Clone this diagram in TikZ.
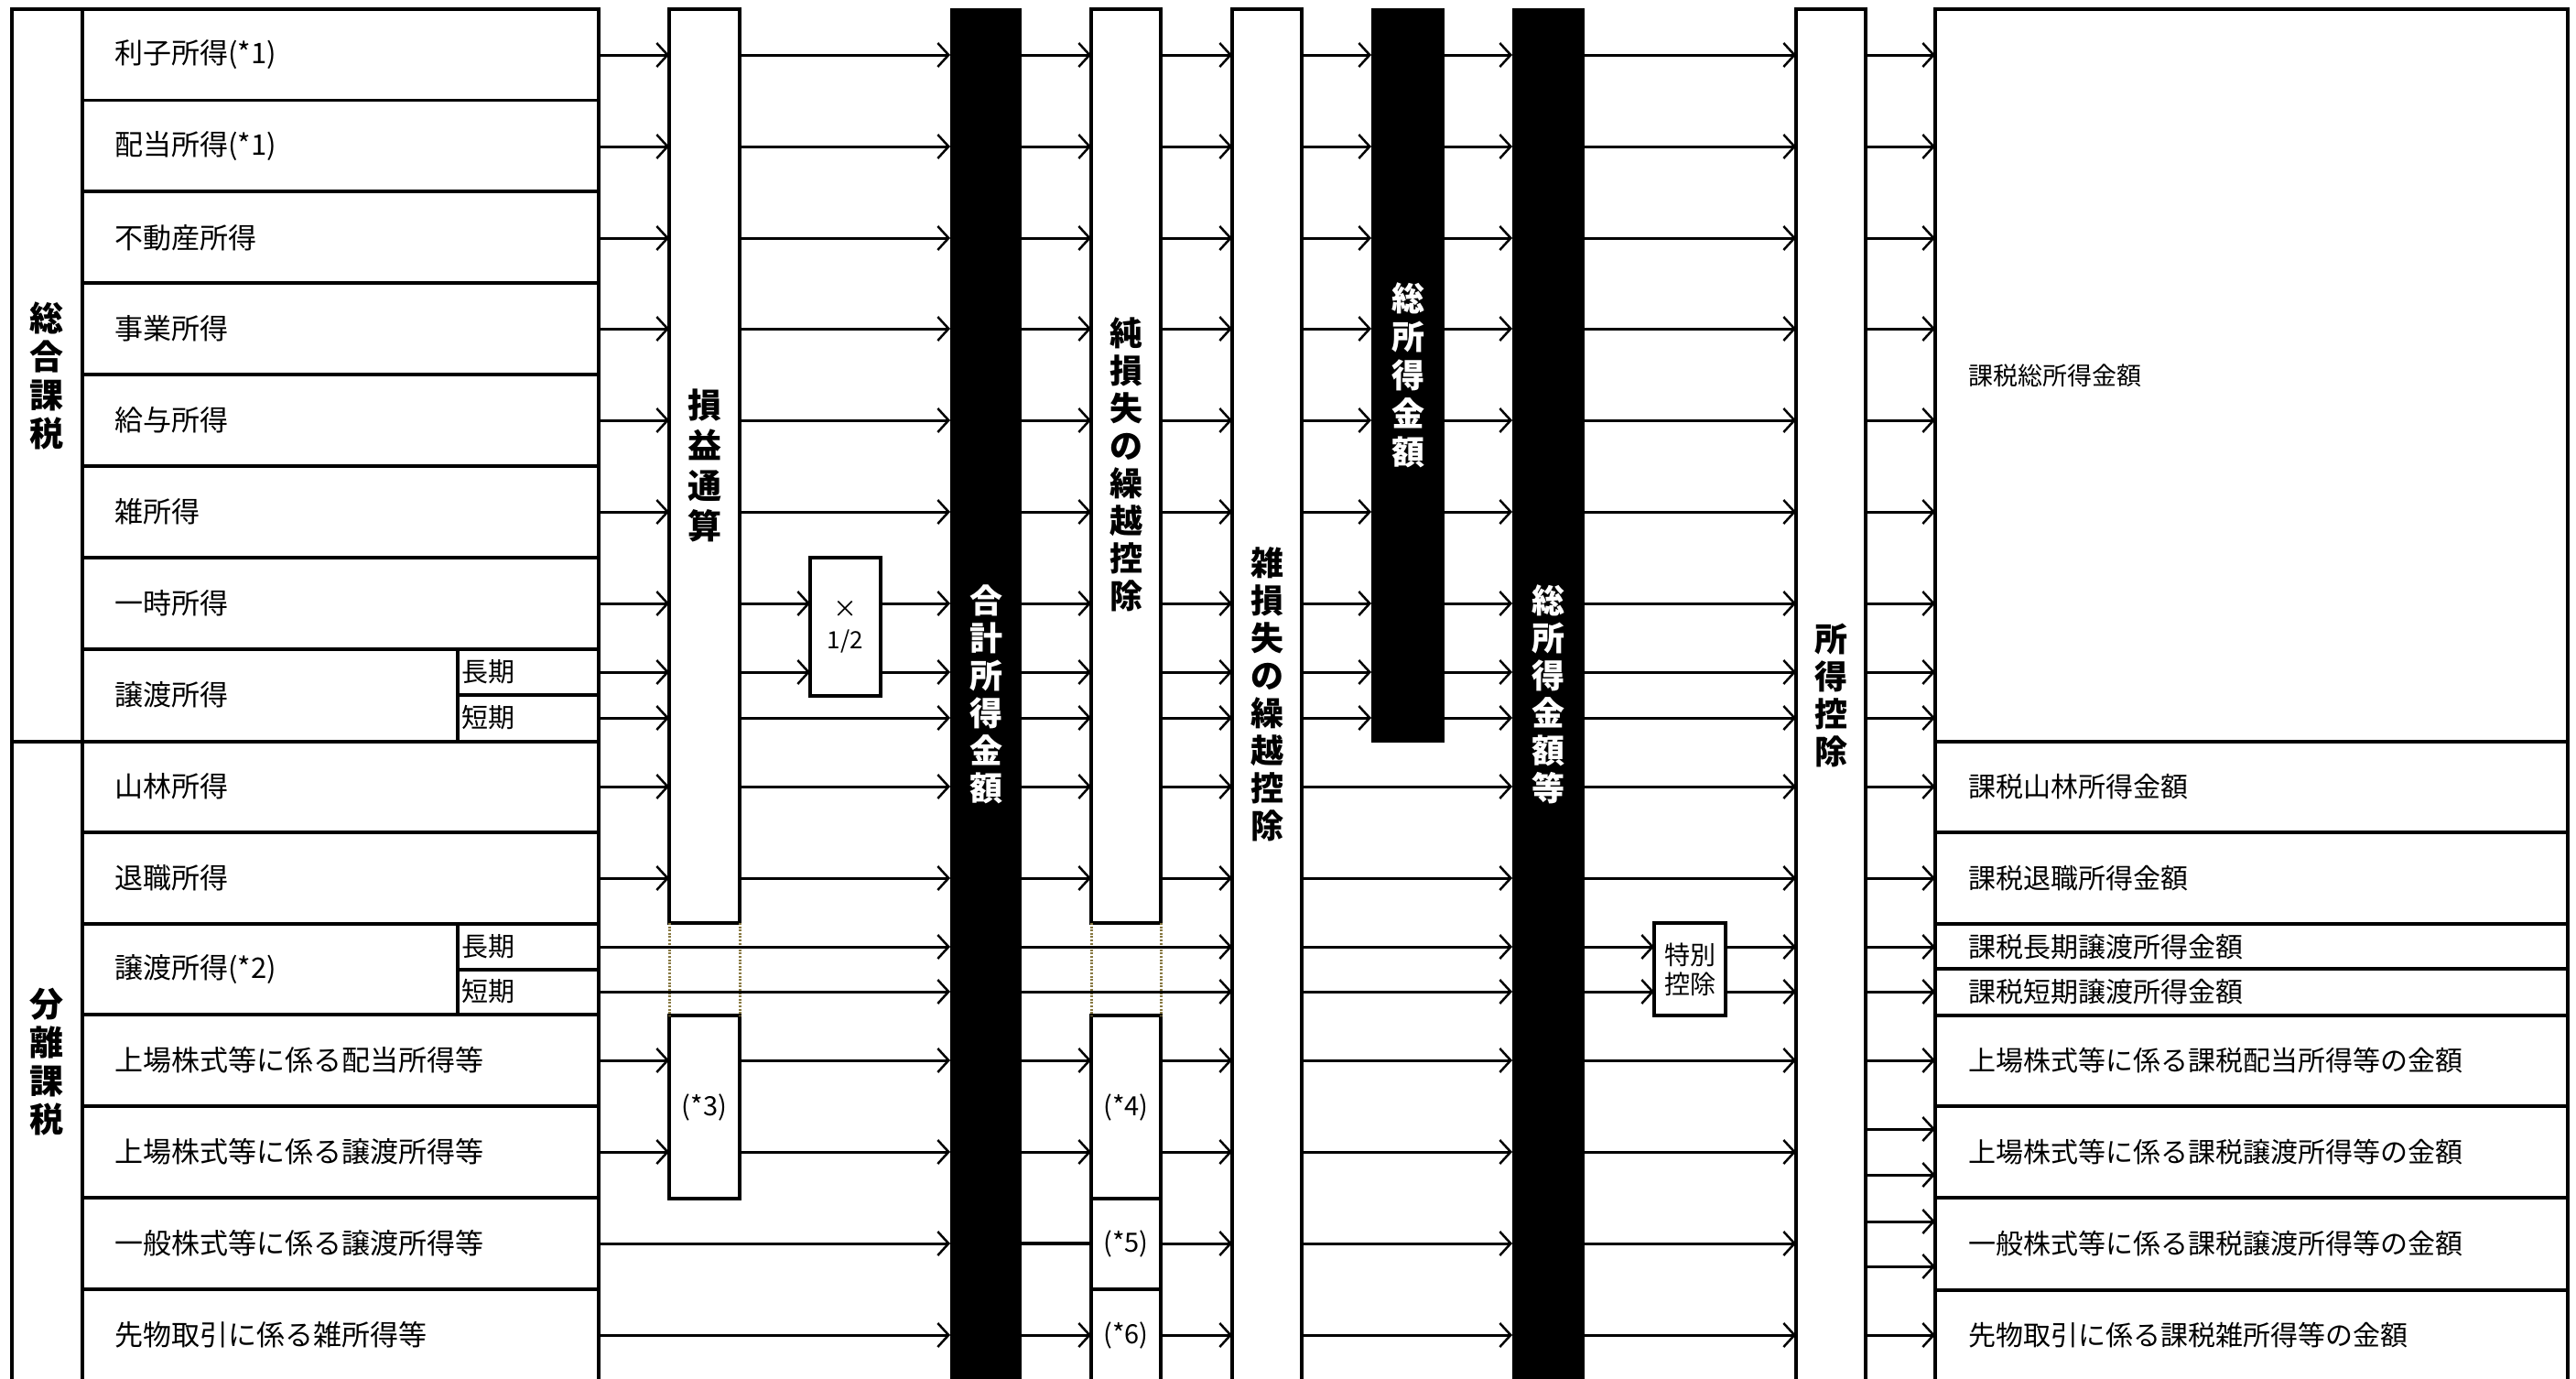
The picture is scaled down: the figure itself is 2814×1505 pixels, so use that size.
\documentclass[tikz,border=0pt]{standalone}
\usepackage{fontspec}
\setmainfont{Noto Sans CJK JP}
\usetikzlibrary{arrows.meta}
\definecolor{dotc}{RGB}{135,120,65}
\begin{document}
\begin{tikzpicture}[x=1pt,y=-1pt,
  ln/.style={line width=3.1pt},
  arr/.style={line width=3pt,-{Straight Barb[length=12pt,width=26pt,line width=2.5pt]}},
  wbox/.style={draw,line width=3.1pt,fill=white,inner sep=0pt,outer sep=0pt,anchor=north west},
  bbar/.style={fill=black,inner sep=0pt,outer sep=0pt,anchor=north west},
  lbl/.style={anchor=west,inner sep=0pt,font=\fontsize{31}{31}\selectfont},
  slbl/.style={anchor=west,inner sep=0pt,font=\fontsize{29}{29}\selectfont},
  rlbl/.style={anchor=west,inner sep=0pt,font=\fontsize{30}{30}\selectfont},
  nlbl/.style={inner sep=0pt,font=\fontsize{29}{29}\selectfont},
  vlbl/.style={align=center,inner sep=0pt,font=\bfseries\fontsize{36}{41}\selectfont},
  dotl/.style={draw=dotc,line width=3pt,dash pattern=on 2pt off 1.6pt}
]
\useasboundingbox (0,0) rectangle (2814,1505);
\clip (0,0) rectangle (2814,1505);
\fill[white] (0,0) rectangle (2814,1505);

% row coordinates
\coordinate (r1) at (0,60);   \coordinate (r2) at (0,160);  \coordinate (r3) at (0,260);
\coordinate (r4) at (0,359);  \coordinate (r5) at (0,459);  \coordinate (r6) at (0,559);
\coordinate (r7) at (0,659);  \coordinate (r8) at (0,734);  \coordinate (r9) at (0,784);
\coordinate (r10) at (0,859); \coordinate (r11) at (0,959); \coordinate (r12) at (0,1034);
\coordinate (r13) at (0,1083);\coordinate (r14) at (0,1158);\coordinate (r15) at (0,1258);
\coordinate (r16) at (0,1358);\coordinate (r17) at (0,1458);
\coordinate (r15a) at (0,1233);\coordinate (r15b) at (0,1283);
\coordinate (r16a) at (0,1334);\coordinate (r16b) at (0,1383);

% ---------- left table ----------
\node[wbox,minimum width=641pt,minimum height=1520pt] (tbl) at (13,10) {};
\draw[ln] (90,10) -- (90,1530);
\foreach \y in {109.5,209,309,409,509,609,709,909,1009,1108,1208,1308,1408}
  \draw[ln] (90,\y) -- (654,\y);
\draw[ln] (13,810) -- (654,810);
\draw[ln] (500,709) -- (500,810);  \draw[ln] (500,759) -- (654,759);
\draw[ln] (500,1009) -- (500,1108); \draw[ln] (500,1059) -- (654,1059);

\node[vlbl,font=\bfseries\fontsize{37}{42}\selectfont] (sougou) at (51,410) {総\\合\\課\\税};
\node[vlbl,font=\bfseries\fontsize{37}{42}\selectfont] (bunri) at (51,1160) {分\\離\\課\\税};

\node[lbl] (t1) at (125,60) {利子所得(*1)};
\node[lbl] (t2) at (125,160) {配当所得(*1)};
\node[lbl] (t3) at (125,260) {不動産所得};
\node[lbl] (t4) at (125,359) {事業所得};
\node[lbl] (t5) at (125,459) {給与所得};
\node[lbl] (t6) at (125,559) {雑所得};
\node[lbl] (t7) at (125,659) {一時所得};
\node[lbl] (t8) at (125,759) {譲渡所得};
\node[slbl] (t8a) at (504,734) {長期};
\node[slbl] (t8b) at (504,784) {短期};
\node[lbl] (t10) at (125,859) {山林所得};
\node[lbl] (t11) at (125,959) {退職所得};
\node[lbl] (t12) at (125,1059) {譲渡所得(*2)};
\node[slbl] (t12a) at (504,1034) {長期};
\node[slbl] (t12b) at (504,1083) {短期};
\node[lbl] (t14) at (125,1158) {上場株式等に係る配当所得等};
\node[lbl] (t15) at (125,1258) {上場株式等に係る譲渡所得等};
\node[lbl] (t16) at (125,1358) {一般株式等に係る譲渡所得等};
\node[lbl] (t17) at (125,1458) {先物取引に係る雑所得等};

% ---------- boxes ----------
\node[wbox,minimum width=77pt,minimum height=998pt] (sontsu) at (731,10) {};
\node[vlbl,font=\bfseries\fontsize{37}{44}\selectfont] (tsontsu) at (769.5,508) {損\\益\\通\\算};
\node[wbox,minimum width=77pt,minimum height=151pt,align=center,
      font=\fontsize{26}{34}\selectfont] (half) at (885,609) {×\\1/2};
\node[wbox,minimum width=77pt,minimum height=200pt,font=\fontsize{29}{29}\selectfont] (star3) at (731,1109) {(*3)};

\node[bbar,minimum width=78pt,minimum height=1520pt] (goukei) at (1038,9) {};
\node[vlbl,text=white] (tgoukei) at (1077,758) {合\\計\\所\\得\\金\\額};

\node[wbox,minimum width=76pt,minimum height=998pt] (jun) at (1192,10) {};
\node[vlbl] (tjun) at (1230,507) {純\\損\\失\\の\\繰\\越\\控\\除};
\node[wbox,minimum width=76pt,minimum height=200pt,font=\fontsize{29}{29}\selectfont] (star4) at (1192,1109) {(*4)};
\node[wbox,minimum width=76pt,minimum height=99pt,font=\fontsize{29}{29}\selectfont] (star5) at (1192,1309) {(*5)};
\node[wbox,minimum width=76pt,minimum height=120pt] (star6) at (1192,1408) {};
\node[nlbl] (tstar6) at (1230,1458) {(*6)};

\node[wbox,minimum width=76pt,minimum height=1520pt] (zatsu) at (1346,10) {};
\node[vlbl] (tzatsu) at (1384,758) {雑\\損\\失\\の\\繰\\越\\控\\除};

\node[bbar,minimum width=80pt,minimum height=802pt] (soshotoku) at (1498,9) {};
\node[vlbl,text=white,font=\bfseries\fontsize{36}{42}\selectfont] (tsoshotoku) at (1538,410) {総\\所\\得\\金\\額};

\node[bbar,minimum width=79pt,minimum height=1520pt] (sotoutou) at (1652,9) {};
\node[vlbl,text=white] (tsotoutou) at (1691,758) {総\\所\\得\\金\\額\\等};

\node[wbox,minimum width=78pt,minimum height=101pt,align=center,
      font=\fontsize{28}{32}\selectfont] (tokubetsu) at (1807,1008) {特別\\控除};

\node[wbox,minimum width=76pt,minimum height=1520pt] (shotoku) at (1962,10) {};
\node[vlbl] (tshotoku) at (2000,759) {所\\得\\控\\除};

% dotted links
\draw[dotl] (sontsu.south west) -- (star3.north west);
\draw[dotl] (sontsu.south east) -- (star3.north east);
\draw[dotl] (jun.south west) -- (star4.north west);
\draw[dotl] (jun.south east) -- (star4.north east);

% ---------- result table ----------
\node[wbox,minimum width=691pt,minimum height=1520pt] (res) at (2114,10) {};
\foreach \y in {810,909,1009,1058,1109,1208,1308,1409}
  \draw[ln] (2114,\y) -- (2805,\y);
\node[rlbl,font=\fontsize{27}{27}\selectfont] (u1) at (2150,410) {課税総所得金額};
\node[rlbl] (u10) at (2150,859) {課税山林所得金額};
\node[rlbl] (u11) at (2150,959) {課税退職所得金額};
\node[rlbl] (u12) at (2150,1034) {課税長期譲渡所得金額};
\node[rlbl] (u13) at (2150,1083) {課税短期譲渡所得金額};
\node[rlbl] (u14) at (2150,1158) {上場株式等に係る課税配当所得等の金額};
\node[rlbl] (u15) at (2150,1258) {上場株式等に係る課税譲渡所得等の金額};
\node[rlbl] (u16) at (2150,1358) {一般株式等に係る課税譲渡所得等の金額};
\node[rlbl] (u17) at (2150,1458) {先物取引に係る課税雑所得等の金額};

% ---------- arrows ----------
% col A / B
\foreach \r in {r1,r2,r3,r4,r5,r6,r7,r8,r9,r10,r11}
  \draw[arr] (tbl.east |- \r) -- (sontsu.west |- \r);
\foreach \r in {r14,r15}
  \draw[arr] (tbl.east |- \r) -- (star3.west |- \r);
\foreach \r in {r12,r13,r16,r17}
  \draw[arr] (tbl.east |- \r) -- (goukei.west |- \r);
\foreach \r in {r1,r2,r3,r4,r5,r6,r9,r10,r11}
  \draw[arr] (sontsu.east |- \r) -- (goukei.west |- \r);
\foreach \r in {r7,r8} {
  \draw[arr] (sontsu.east |- \r) -- (half.west |- \r);
  \draw[arr] (half.east |- \r) -- (goukei.west |- \r);
}
\foreach \r in {r14,r15}
  \draw[arr] (star3.east |- \r) -- (goukei.west |- \r);
% col C / D
\foreach \r in {r1,r2,r3,r4,r5,r6,r7,r8,r9,r10,r11} {
  \draw[arr] (goukei.east |- \r) -- (jun.west |- \r);
  \draw[arr] (jun.east |- \r) -- (zatsu.west |- \r);
}
\foreach \r in {r12,r13}
  \draw[arr] (goukei.east |- \r) -- (zatsu.west |- \r);
\foreach \r in {r14,r15} {
  \draw[arr] (goukei.east |- \r) -- (star4.west |- \r);
  \draw[arr] (star4.east |- \r) -- (zatsu.west |- \r);
}
\draw[ln] (goukei.east |- r16) -- (star5.west |- r16);
\draw[arr] (star5.east |- r16) -- (zatsu.west |- r16);
\draw[arr] (goukei.east |- r17) -- (star6.west |- r17);
\draw[arr] (star6.east |- r17) -- (zatsu.west |- r17);
% col E / F
\foreach \r in {r1,r2,r3,r4,r5,r6,r7,r8,r9} {
  \draw[arr] (zatsu.east |- \r) -- (soshotoku.west |- \r);
  \draw[arr] (soshotoku.east |- \r) -- (sotoutou.west |- \r);
}
\foreach \r in {r10,r11,r12,r13,r14,r15,r16,r17}
  \draw[arr] (zatsu.east |- \r) -- (sotoutou.west |- \r);
% col G
\foreach \r in {r1,r2,r3,r4,r5,r6,r7,r8,r9,r10,r11,r14,r15,r16,r17}
  \draw[arr] (sotoutou.east |- \r) -- (shotoku.west |- \r);
\foreach \r in {r12,r13} {
  \draw[arr] (sotoutou.east |- \r) -- (tokubetsu.west |- \r);
  \draw[arr] (tokubetsu.east |- \r) -- (shotoku.west |- \r);
}
% col H
\foreach \r in {r1,r2,r3,r4,r5,r6,r7,r8,r9,r10,r11,r12,r13,r14,r15a,r15b,r16a,r16b,r17}
  \draw[arr] (shotoku.east |- \r) -- (res.west |- \r);
\end{tikzpicture}
\end{document}
